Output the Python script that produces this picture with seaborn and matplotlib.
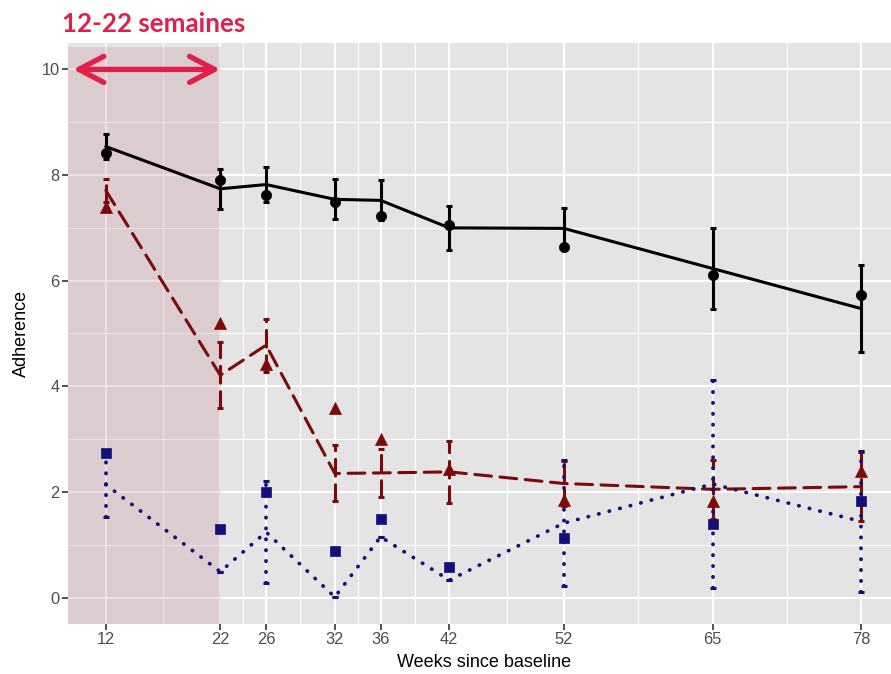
import numpy as np
import pandas as pd
import matplotlib
matplotlib.use("Agg")
import matplotlib.pyplot as plt
import seaborn as sns

# data
weeks = [12, 22, 26, 32, 36, 42, 52, 65, 78]

black_fit = [8.54, 7.74, 7.82, 7.54, 7.52, 7.00, 6.99, 6.23, 5.47]
black_err = [0.24, 0.38, 0.33, 0.38, 0.38, 0.42, 0.39, 0.77, 0.82]
black_obs = [8.41, 7.90, 7.63, 7.49, 7.22, 7.06, 6.64, 6.10, 5.73]

red_fit = [7.71, 4.21, 4.78, 2.35, 2.36, 2.38, 2.16, 2.05, 2.10]
red_err = [0.22, 0.62, 0.50, 0.53, 0.46, 0.58, 0.43, 0.56, 0.65]
red_obs = [7.40, 5.20, 4.43, 3.58, 3.01, 2.43, 1.85, 1.83, 2.40]

blue_fit = [2.14, 0.49, 1.24, 0.01, 1.15, 0.33, 1.41, 2.15, 1.44]
blue_err = [0.62, 0.0, 0.97, 0.0, 0.0, 0.0, 1.20, 1.97, 1.33]
blue_obs = [2.74, 1.30, 2.00, 0.89, 1.48, 0.57, 1.13, 1.39, 1.83]

y_ticks = [0, 2, 4, 6, 8, 10]
highlight = (12, 22)
highlight_label = "12-22 semaines"

sns.set_theme(style="darkgrid")
plt.rcParams['font.family'] = ['Liberation Sans', 'DejaVu Sans']

crimson = "#e0204b"
series = [
    dict(fit=black_fit, err=black_err, obs=black_obs, color="black",
         ls="-", lw=2.2, marker="o", s=55),
    dict(fit=red_fit, err=red_err, obs=red_obs, color="#7d0a0a",
         ls=(0, (5.5, 2.8)), lw=2.2, marker="^", s=75),
    dict(fit=blue_fit, err=blue_err, obs=blue_obs, color="#14107a",
         ls=(0, (0.1, 2.8)), lw=2.7, marker="s", s=55),
]

fig = plt.figure(figsize=(8.91, 6.74), dpi=100)
ax = fig.add_axes([0.0763, 0.0742, 0.933, 0.862])
ax.set_facecolor("#e4e4e4")

for spec in series:
    df = pd.DataFrame({"week": weeks, "value": spec["fit"]})
    sns.lineplot(data=df, x="week", y="value", color=spec["color"], lw=spec["lw"],
                 linestyle=spec["ls"], dash_capstyle="round", ax=ax, zorder=3)
    eb = ax.errorbar(weeks, spec["fit"], yerr=spec["err"], fmt="none",
                     ecolor=spec["color"], elinewidth=spec["lw"], capsize=2.5,
                     capthick=2.2, zorder=3)
    for col in eb[2]:
        col.set_linestyle(spec["ls"])
        col.set_capstyle("round")
    sns.scatterplot(x=weeks, y=spec["obs"], marker=spec["marker"],
                    color=spec["color"], s=spec["s"], edgecolor=spec["color"],
                    linewidth=0.5, ax=ax, zorder=4)

# shaded period + arrow
ax.axvspan(8.7, highlight[1] + 0.1, ymin=0, ymax=(10.42 + 0.5) / 11,
           color=(200 / 255, 150 / 255, 165 / 255), alpha=0.3, lw=0, zorder=1)
ax.annotate("", xy=(highlight[1], 10), xytext=(9.15, 10),
            arrowprops=dict(arrowstyle="<->,head_length=0.9,head_width=0.47",
                            color=crimson, lw=3.8, mutation_scale=20,
                            capstyle="round", joinstyle="round",
                            shrinkA=0, shrinkB=0), zorder=5)
fig.text(62 / 891, 1 - 32 / 674, highlight_label, color=crimson,
         fontsize=18.6, fontweight="bold", family=["Lato", "DejaVu Sans"],
         va="baseline", ha="left")

ax.set_xlim(8.7, 81.3)
ax.set_ylim(-0.5, 10.5)
ax.set_xticks(weeks)
ax.set_xticks([(a + b) / 2 for a, b in zip(weeks[:-1], weeks[1:])], minor=True)
ax.set_yticks(y_ticks)
ax.set_yticks([1, 3, 5, 7, 9], minor=True)
ax.grid(which="major", color="white", lw=1.5)
ax.grid(which="minor", color="white", lw=0.8)
ax.set_axisbelow(True)
for sp in ax.spines.values():
    sp.set_visible(False)
ax.tick_params(which="major", direction="out", length=4, width=1.2,
               color="#333333", labelcolor="#4d4d4d", labelsize=11.8, pad=2,
               bottom=True, left=True)
ax.tick_params(which="minor", length=0)
ax.set_xlabel("Weeks since baseline", fontsize=13, color="black", labelpad=5)
ax.set_ylabel("Adherence", fontsize=13, color="black", labelpad=8)

fig.savefig("out.png", dpi=100)
